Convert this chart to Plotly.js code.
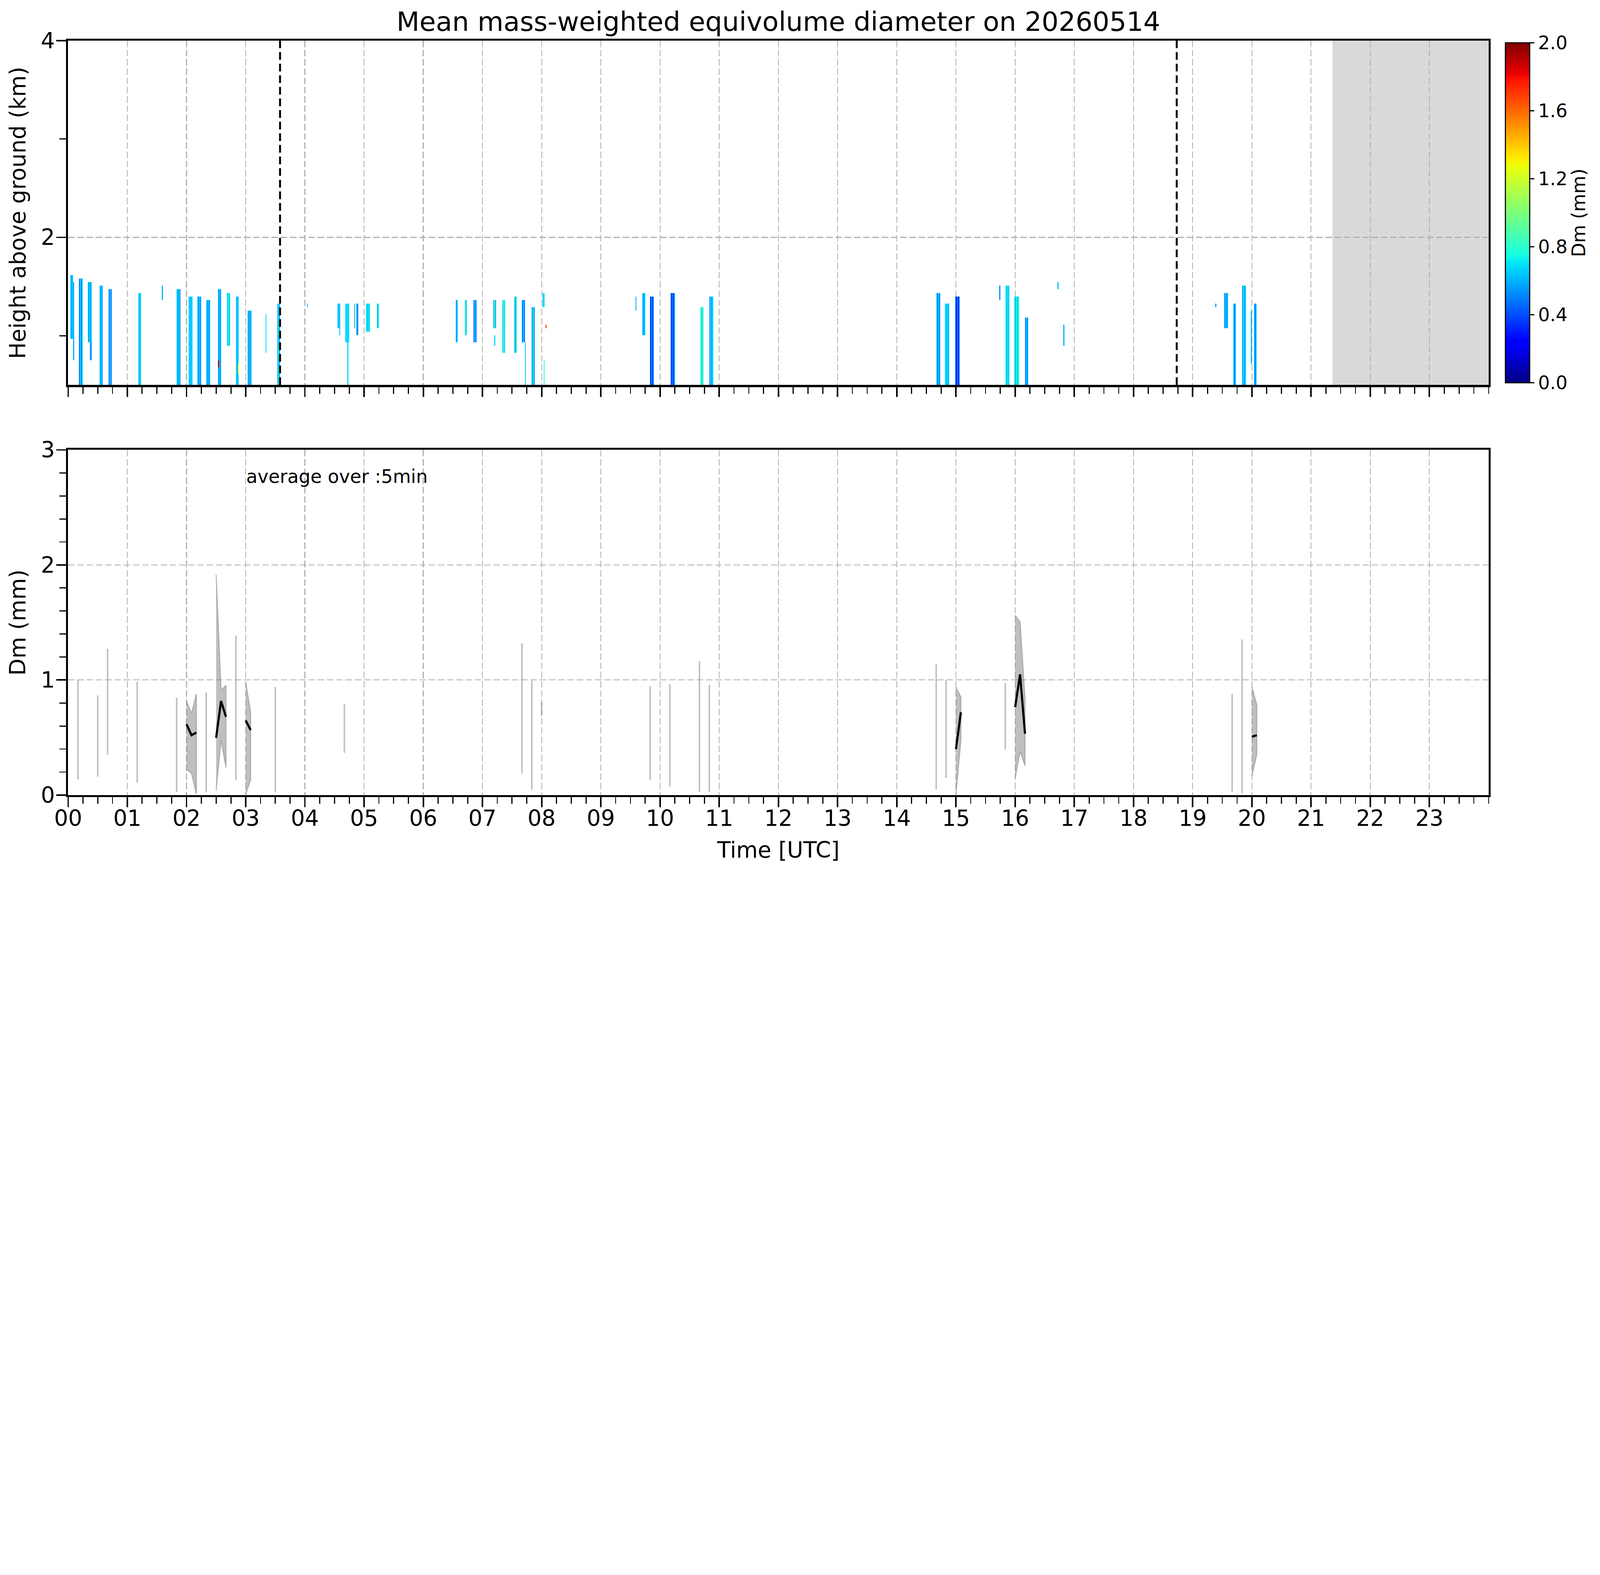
<!DOCTYPE html>
<html>
<head>
<meta charset="utf-8">
<script src="https://cdn.plot.ly/plotly-3.0.1.min.js"></script>
<style>
  html, body { margin: 0; padding: 0; background: #fff; overflow: hidden; }
  #chart { width: 7442px; height: 4031px; transform-origin: 0 0; }
</style>
</head>
<body>
<div id="chart"></div>
<script>
// ---- top panel: Dm profile stripes (minute of day, km, mm) ----
// each stripe: first minute, width in minutes, top and base height,
// Dm of the odd and even columns inside the stripe
var stripeStart = [2, 5, 11, 20, 22, 32, 41, 71, 95, 110, 122, 131,
                   140, 152, 161, 170, 182, 200, 212, 242, 273, 275, 281, 283,
                   290, 292, 302, 313, 393, 402, 411, 431, 432, 440, 452, 460,
                   463, 470, 481, 482, 484, 575, 582, 590, 611, 641, 650, 880,
                   889, 899, 944, 950, 959, 970, 1003, 1009, 1163, 1172, 1181, 1190,
                   1199, 1202, 152, 172];
var stripeWidth = [3, 1, 4, 4, 2, 3, 3, 3, 1, 4, 4, 4,
                   4, 3, 3, 3, 4, 1, 3, 1, 2, 1, 4, 1,
                   1, 2, 4, 2, 2, 2, 3, 3, 1, 3, 3, 3,
                   1, 3, 2, 1, 1, 1, 3, 4, 4, 3, 4, 4,
                   4, 5, 1, 4, 5, 3, 1, 1, 1, 4, 3, 4,
                   1, 3, 1, 1];
var stripeTop =   [1.60, 1.53, 1.57, 1.53, 0.93, 1.50, 1.46, 1.42, 1.50, 1.46, 1.39, 1.39,
                   1.35, 1.46, 1.42, 1.39, 1.24, 1.21, 1.31, 1.32, 1.31, 1.31, 1.31, 0.95,
                   1.31, 1.31, 1.31, 1.31, 1.35, 1.35, 1.35, 1.35, 0.99, 1.35, 1.39, 1.35,
                   0.92, 1.28, 1.42, 0.74, 1.10, 1.39, 1.42, 1.39, 1.42, 1.28, 1.39, 1.42,
                   1.31, 1.39, 1.50, 1.50, 1.39, 1.17, 1.53, 1.10, 1.31, 1.42, 1.31, 1.50,
                   1.24, 1.31, 0.74, 0.72];
var stripeBase =  [0.97, 0.76, 0.50, 0.93, 0.74, 0.50, 0.50, 0.50, 1.36, 0.50, 0.50, 0.50,
                   0.50, 0.50, 0.88, 0.50, 0.50, 0.81, 0.50, 1.28, 1.06, 0.99, 0.95, 0.50,
                   1.08, 1.00, 1.04, 1.09, 0.95, 0.99, 0.95, 1.06, 0.88, 0.81, 0.81, 0.92,
                   0.50, 0.50, 1.31, 0.50, 1.06, 1.24, 0.99, 0.50, 0.50, 0.50, 0.50, 0.50,
                   0.50, 0.50, 1.35, 0.50, 0.50, 0.50, 1.46, 0.88, 1.28, 1.06, 0.50, 0.50,
                   0.70, 0.50, 0.69, 0.62];
var stripeDmA =   [0.66, 0.60, 0.50, 0.58, 0.56, 0.58, 0.50, 0.70, 0.62, 0.66, 0.60, 0.66,
                   0.62, 0.56, 0.66, 0.68, 0.56, 0.68, 0.58, 0.62, 0.60, 0.62, 0.66, 0.68,
                   0.60, 0.60, 0.70, 0.62, 0.50, 0.80, 0.50, 0.56, 0.68, 0.66, 0.80, 0.50,
                   0.66, 0.56, 0.66, 0.78, 1.80, 0.58, 0.66, 0.35, 0.35, 0.80, 0.52, 0.66,
                   0.70, 0.56, 0.52, 0.72, 0.78, 0.52, 0.62, 0.60, 0.56, 0.52, 0.66, 0.50,
                   0.62, 0.66, 1.90, 1.30];
var stripeDmB =   [0.58, 0.60, 0.72, 0.66, 0.56, 0.66, 0.68, 0.60, 0.62, 0.52, 0.68, 0.50,
                   0.56, 0.66, 0.80, 0.60, 0.66, 0.68, 0.70, 0.62, 0.66, 0.62, 0.70, 0.68,
                   0.60, 0.50, 0.64, 0.70, 0.66, 0.66, 0.66, 0.80, 0.68, 0.80, 0.58, 0.66,
                   0.66, 0.78, 0.66, 0.78, 1.80, 0.58, 0.52, 0.60, 0.56, 0.68, 0.68, 0.52,
                   0.62, 0.30, 0.52, 0.64, 0.58, 0.66, 0.62, 0.60, 0.56, 0.70, 0.50, 0.72,
                   0.62, 0.50, 1.90, 1.30];

// vertical markers and no-data period (hours UTC)
var dashedTimes = [3.58, 18.73];
var noDataStart = 21.36;
var noDataEnd = 24;

// ---- bottom panel: 5-min averages (minute of day, mm) ----
var avgMinute = [10, 30, 40, 70, 110, 120, 125, 130, 140, 150, 155, 160,
                 170, 180, 185, 210, 280, 460, 470, 480, 590, 610, 640, 650,
                 880, 890, 900, 905, 950, 960, 965, 970, 1180, 1190, 1200, 1205];
var avgMean = [null, null, null, null, null, 0.615, 0.52, 0.543, null, 0.497, 0.817, 0.68,
               null, 0.648, 0.565, null, null, null, null, null, null, null, null, null,
               null, null, 0.40, 0.72, null, 0.764, 1.049, 0.533, null, null, 0.507, 0.52];
var avgMin = [0.137, 0.16, 0.35, 0.108, 0.029, 0.223, 0.19, 0.007, 0.024, 0.04, 0.475, 0.24,
              0.13, 0.007, 0.13, 0.024, 0.367, 0.187, 0.046, 0.69, 0.133, 0.076, 0.029, 0.029,
              0.05, 0.148, 0.007, 0.475, 0.396, 0.144, 0.378, 0.255, 0.029, 0.017, 0.166, 0.353];
var avgMax = [1.0, 0.865, 1.27, 0.985, 0.846, 0.817, 0.71, 0.88, 0.89, 1.916, 0.91, 0.954,
              1.386, 0.98, 0.718, 0.94, 0.79, 1.32, 0.994, 0.81, 0.948, 0.965, 1.164, 0.958,
              1.14, 1.0, 0.937, 0.853, 0.973, 1.563, 1.506, 0.84, 0.88, 1.353, 0.94, 0.785];

var hourLabels = [];
for (var h = 0; h < 24; h++) hourLabels.push((h < 10 ? '0' : '') + h);
var hourTicks = hourLabels.map(function (s, i) { return i; });

// jet colour map (matplotlib)
var jet = [
  [0.0, 'rgb(0,0,128)'], [0.11, 'rgb(0,0,255)'], [0.125, 'rgb(0,0,255)'],
  [0.34, 'rgb(0,219,255)'], [0.35, 'rgb(0,229,247)'], [0.375, 'rgb(21,255,226)'],
  [0.64, 'rgb(239,255,8)'], [0.65, 'rgb(247,245,0)'], [0.66, 'rgb(255,236,0)'],
  [0.89, 'rgb(255,19,0)'], [0.91, 'rgb(232,0,0)'], [1.0, 'rgb(128,0,0)']
];

// ---- grid for the profile heatmap ----
var gateStep = 0.036, gateLow = 0.5, nGates = 33;
var gridX = [], gridY = [], gridZ = [];
for (var m = 0; m < 1440; m++) gridX.push((m + 0.5) / 60);
for (var k = 0; k < nGates; k++) {
  gridY.push(gateLow + gateStep * (k + 0.5));
  var row = [];
  for (var m2 = 0; m2 < 1440; m2++) row.push(null);
  gridZ.push(row);
}
for (var s = 0; s < stripeStart.length; s++) {
  for (var c = 0; c < stripeWidth[s]; c++) {
    var col = stripeStart[s] + c;
    var v = (c % 2 === 0) ? stripeDmA[s] : stripeDmB[s];
    for (var g = 0; g < nGates; g++) {
      if (gridY[g] >= stripeBase[s] && gridY[g] <= stripeTop[s]) gridZ[g][col] = v;
    }
  }
}

var traces = [{
  type: 'heatmap', x: gridX, y: gridY, z: gridZ,
  xaxis: 'x', yaxis: 'y',
  colorscale: jet, zmin: 0, zmax: 2, zsmooth: false,
  hoverinfo: 'skip',
  colorbar: {
    x: 1.0103, xanchor: 'left', xref: 'paper',
    y: 1, yanchor: 'top', len: 0.4564, lenmode: 'fraction',
    thickness: 113, thicknessmode: 'pixels',
    outlinewidth: 5, outlinecolor: 'black',
    tickmode: 'array', tickvals: [0, 0.4, 0.8, 1.2, 1.6, 2.0],
    ticktext: ['0.0', '0.4', '0.8', '1.2', '1.6', '2.0'],
    ticks: 'outside', ticklen: 20, tickwidth: 5, tickcolor: 'black',
    tickfont: {size: 86, color: 'black'},
    title: {text: 'Dm (mm)', side: 'right', font: {size: 86, color: 'black'}}
  }
}];

// ---- 5-min average envelope and mean ----
var grey = 'rgba(128,128,128,0.5)';
var seg = [];
function flushSegment() {
  if (!seg.length) return;
  var xs = seg.map(function (i) { return avgMinute[i] / 60; });
  if (seg.length === 1) {
    traces.push({type: 'scatter', mode: 'lines', xaxis: 'x2', yaxis: 'y2',
      x: [xs[0], xs[0]], y: [avgMin[seg[0]], avgMax[seg[0]]],
      line: {color: grey, width: 7}, hoverinfo: 'skip'});
  } else {
    var px = xs.concat(xs.slice().reverse());
    var py = seg.map(function (i) { return avgMax[i]; })
      .concat(seg.map(function (i) { return avgMin[i]; }).reverse());
    traces.push({type: 'scatter', mode: 'lines', xaxis: 'x2', yaxis: 'y2',
      x: px, y: py, fill: 'toself', fillcolor: grey,
      line: {color: grey, width: 5}, hoverinfo: 'skip'});
    traces.push({type: 'scatter', mode: 'lines', xaxis: 'x2', yaxis: 'y2',
      x: xs, y: seg.map(function (i) { return avgMean[i]; }),
      line: {color: 'black', width: 10}, hoverinfo: 'skip'});
  }
  seg = [];
}
for (var i = 0; i < avgMinute.length; i++) {
  if (seg.length && avgMinute[i] - avgMinute[seg[seg.length - 1]] !== 5) flushSegment();
  seg.push(i);
}
flushSegment();

var gridStyle = {showgrid: true, gridcolor: '#b0b0b0', gridwidth: 4, griddash: '30px,13px'};
function axisBase() {
  return Object.assign({
    showline: true, linewidth: 10, linecolor: 'black', mirror: true,
    ticks: 'outside', ticklen: 46, tickwidth: 7, tickcolor: 'black',
    zeroline: false, tickfont: {size: 103, color: 'black'}
  }, gridStyle);
}

var xTop = Object.assign(axisBase(), {
  domain: [0, 1], anchor: 'y', range: [0, 24],
  tickmode: 'array', tickvals: hourTicks, ticktext: hourLabels, showticklabels: false,
  minor: {dtick: 0.25, tick0: 0, ticklen: 31, tickwidth: 5, tickcolor: 'black', showgrid: false}
});
var xBot = Object.assign(axisBase(), {
  domain: [0, 1], anchor: 'y2', range: [0, 24], matches: 'x',
  tickmode: 'array', tickvals: hourTicks, ticktext: hourLabels,
  ticklabelstandoff: -35,
  minor: {dtick: 0.25, tick0: 0, ticklen: 31, tickwidth: 5, tickcolor: 'black', showgrid: false},
  title: {text: 'Time [UTC]', font: {size: 103, color: 'black'}, standoff: 55}
});
var yTop = Object.assign(axisBase(), {
  domain: [0.5436, 1], anchor: 'x', range: [0.5, 4],
  tickmode: 'array', tickvals: [2, 4], ticktext: ['2', '4'],
  ticklabelstandoff: -15,
  minor: {dtick: 1, tick0: 0, ticklen: 31, tickwidth: 5, tickcolor: 'black', showgrid: false},
  title: {text: 'Height above ground (km)', font: {size: 103, color: 'black'}, standoff: 40}
});
var yBot = Object.assign(axisBase(), {
  domain: [0, 0.4575], anchor: 'x2', range: [0, 3],
  tickmode: 'array', tickvals: [0, 1, 2, 3], ticktext: ['0', '1', '2', '3'],
  ticklabelstandoff: -15,
  minor: {dtick: 0.2, tick0: 0, ticklen: 31, tickwidth: 5, tickcolor: 'black', showgrid: false},
  title: {text: 'Dm (mm)', font: {size: 103, color: 'black'}, standoff: 40}
});

var shapes = [{
  type: 'rect', xref: 'x', yref: 'y domain', x0: noDataStart, x1: noDataEnd, y0: 0, y1: 1,
  fillcolor: '#d9d9d9', line: {width: 0}, layer: 'below'
}];
dashedTimes.forEach(function (t) {
  shapes.push({type: 'line', xref: 'x', yref: 'y domain', x0: t, x1: t, y0: 0, y1: 1,
    line: {color: 'black', width: 9, dash: '36px,18px'}, layer: 'above'});
});

var layout = {
  width: 7442, height: 4031,
  margin: {l: 317, r: 518, t: 189, b: 334},
  paper_bgcolor: 'white', plot_bgcolor: 'rgba(0,0,0,0)',
  font: {family: 'DejaVu Sans', color: 'black'},
  showlegend: false, hovermode: false,
  title: {text: 'Mean mass-weighted equivolume diameter on 20260514',
    font: {size: 124, color: 'black'}, x: 0.5, xref: 'paper',
    y: 0.9752, yref: 'container', yanchor: 'middle'},
  xaxis: xTop, xaxis2: xBot, yaxis: yTop, yaxis2: yBot,
  shapes: shapes,
  annotations: [{
    text: 'average over :5min', xref: 'x2', yref: 'y2', x: 3.0, y: 2.77,
    xanchor: 'left', yanchor: 'middle', showarrow: false,
    font: {size: 86, color: 'black'}
  }]
};

// the window may be narrower than the figure: shrink the whole figure to fit
var fit = Math.min(1, window.innerWidth / 7442, window.innerHeight / 4031);
document.getElementById('chart').style.transform = 'scale(' + fit + ')';

Plotly.newPlot('chart', traces, layout, {displayModeBar: false, staticPlot: true});
</script>
</body>
</html>
